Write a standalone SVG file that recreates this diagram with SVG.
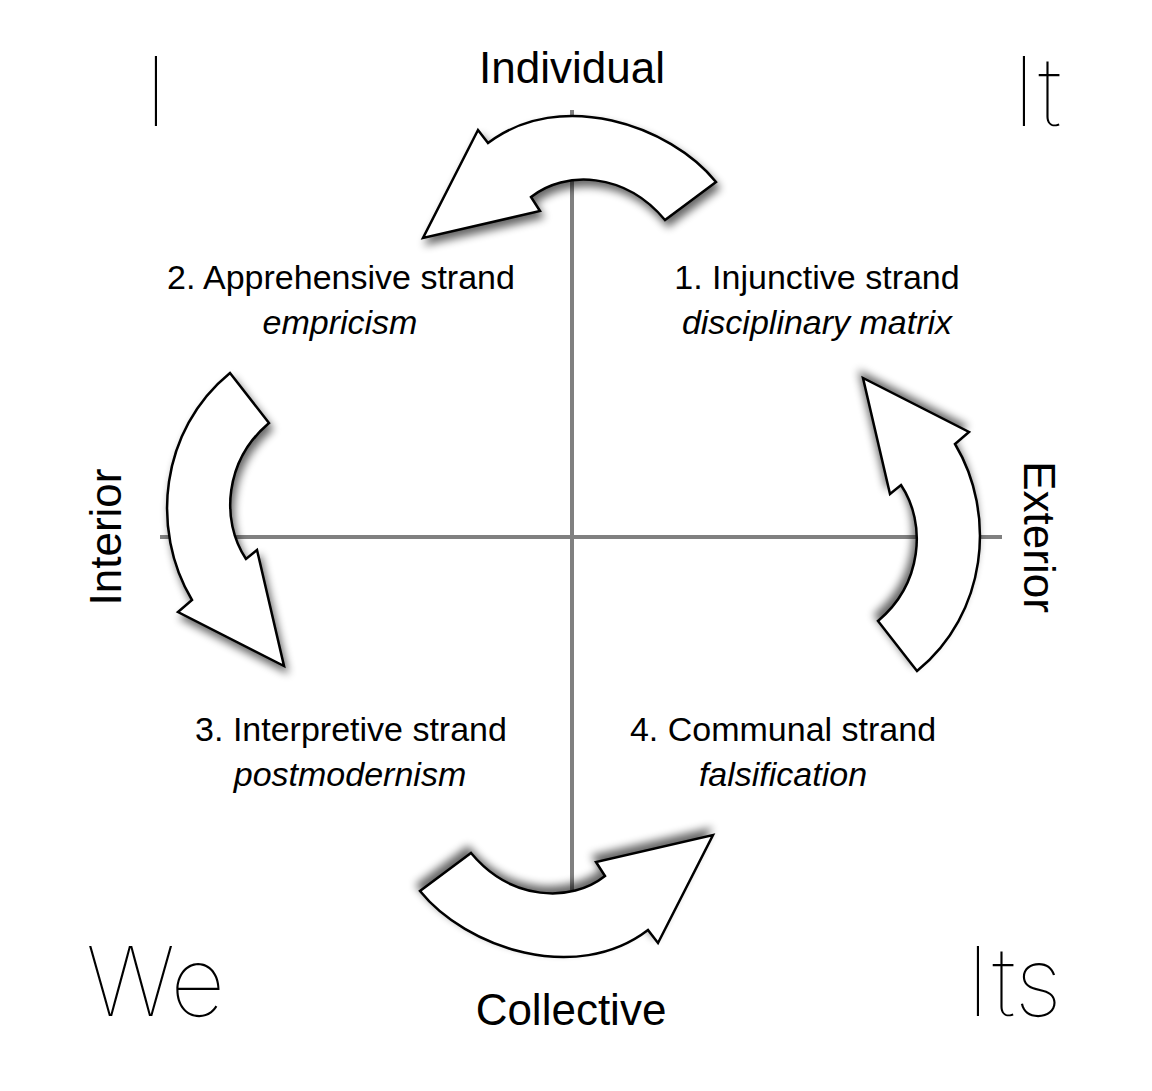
<svg xmlns="http://www.w3.org/2000/svg" width="1152" height="1091" viewBox="0 0 1152 1091">
<style>
.t{font-family:"Liberation Sans",Arial,sans-serif;fill:#000}
.big{font-family:Inter,"Liberation Sans",sans-serif;font-weight:100;font-size:96px;fill:#000}
.lab{font-size:44px;text-anchor:middle}
.s{font-size:34px;text-anchor:middle}
.i{font-style:italic}
.arr{fill:#fff;stroke:#000;stroke-width:2.5;stroke-linejoin:miter;filter:url(#sh)}
.ax{stroke:#808080;stroke-width:4;fill:none}
</style>
<defs>
<filter id="sh" x="-20%" y="-20%" width="150%" height="150%">
<feGaussianBlur in="SourceAlpha" stdDeviation="4"/>
<feOffset dx="3" dy="6" result="b"/>
<feComponentTransfer><feFuncA type="linear" slope="0.6"/></feComponentTransfer>
<feMerge><feMergeNode/><feMergeNode in="SourceGraphic"/></feMerge>
</filter>
<path id="topA" d="M716,182 C670,125 560,88 488,143 L478,130 L423,238 L540,211 L531,197 C565,170 625,172 665,220 Z"/>
<path id="leftA" d="M230,373 C160,430 150,530 192,600 L178,612 L284,666 L257,550 L246,559 C220,520 225,460 269,423 Z"/>
</defs>
<g id="axes">
<line class="ax" x1="572" y1="110" x2="572" y2="890"/>
<line class="ax" x1="160" y1="537" x2="1002" y2="537"/>
</g>
<g id="connectors">
<use href="#topA" class="arr"/>
<use href="#leftA" class="arr"/>
<use href="#leftA" class="arr" transform="rotate(180 573.5 522)"/>
<use href="#topA" class="arr" transform="rotate(180 568 536.5)"/>
</g>
<g id="corners">
<text class="big" x="144" y="126">I</text>
<text class="big" x="1012" y="126">It</text>
<text class="big" x="86" y="1016">We</text>
<text class="big" x="966" y="1016">Its</text>
</g>
<g id="axis-labels">
<text class="t lab" x="572" y="83">Individual</text>
<text class="t lab" x="571" y="1025">Collective</text>
<text class="t lab" transform="translate(121 537) rotate(-90)">Interior</text>
<text class="t lab" transform="translate(1024 537) rotate(90)">Exterior</text>
</g>
<g id="n2"><text class="t s" x="341" y="289">2. Apprehensive strand</text><text class="t s i" x="340" y="334">empricism</text></g>
<g id="n1"><text class="t s" x="817" y="289">1. Injunctive strand</text><text class="t s i" x="817" y="334">disciplinary matrix</text></g>
<g id="n3"><text class="t s" x="351" y="741">3. Interpretive strand</text><text class="t s i" x="350" y="786">postmodernism</text></g>
<g id="n4"><text class="t s" x="783" y="741">4. Communal strand</text><text class="t s i" x="783" y="786">falsification</text></g>
</svg>
